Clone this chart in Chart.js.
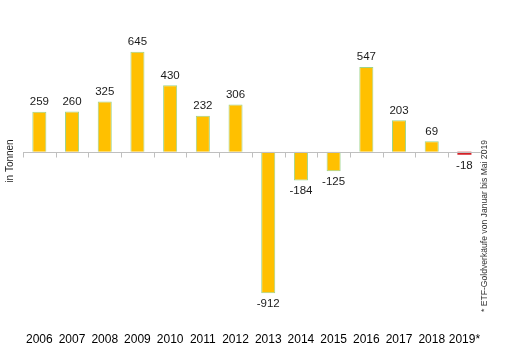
<!DOCTYPE html>
<html><head><meta charset="utf-8">
<script src="https://cdn.jsdelivr.net/npm/chart.js@4"></script>
<style>html,body{margin:0;padding:0;background:#fff}#wrap{width:506px;height:357px}</style>
</head><body><div id="wrap"><canvas id="c"></canvas></div>
<script>
const categories = ['2006','2007','2008','2009','2010','2011','2012','2013','2014','2015','2016','2017','2018','2019*'];
const values = [259,260,325,645,430,232,306,-912,-184,-125,547,203,69,-18];
const barColors = ['#FFC000','#FFC000','#FFC000','#FFC000','#FFC000','#FFC000','#FFC000','#FFC000','#FFC000','#FFC000','#FFC000','#FFC000','#FFC000','#D41F26'];
const yTitle = 'in Tonnen';
const footnote = '* ETF-Goldverkäufe von Januar bis Mai 2019';

const decor = {
  id: 'decor',
  afterDatasetsDraw(chart) {
    const ctx = chart.ctx, x = chart.scales.x, y = chart.scales.y;
    const y0 = Math.round(y.getPixelForValue(0)) + 0.5;
    ctx.save();
    ctx.strokeStyle = '#BFBFBF'; ctx.lineWidth = 1;
    ctx.beginPath();
    ctx.moveTo(chart.chartArea.left, y0); ctx.lineTo(chart.chartArea.right, y0);
    const n = categories.length;
    const step = x.getPixelForValue(1) - x.getPixelForValue(0);
    for (let i = 0; i <= n; i++) {
      const px = Math.round(x.getPixelForValue(0) - step / 2 + i * step) + 0.5;
      ctx.moveTo(px, y0); ctx.lineTo(px, y0 + 5);
    }
    ctx.stroke();
    // data labels
    ctx.fillStyle = '#1a1a1a';
    ctx.font = '11.5px "Liberation Sans", Arial, sans-serif';
    ctx.textAlign = 'center';
    const meta = chart.getDatasetMeta(0);
    meta.data.forEach((bar, i) => {
      const v = values[i];
      if (v >= 0) { ctx.textBaseline = 'bottom'; ctx.fillText(String(v), bar.x, bar.y - 4); }
      else { ctx.textBaseline = 'top'; ctx.fillText(String(v), bar.x, bar.y + 5); }
    });
    // titles
    ctx.fillStyle = '#222';
    ctx.textBaseline = 'middle';
    ctx.font = '10px "Liberation Sans", Arial, sans-serif';
    ctx.save(); ctx.translate(10, 161); ctx.rotate(-Math.PI / 2); ctx.fillText(yTitle, 0, 0); ctx.restore();
    ctx.font = '8.6px "Liberation Sans", Arial, sans-serif';
    ctx.fillStyle = '#333';
    ctx.save(); ctx.translate(485, 226); ctx.rotate(-Math.PI / 2); ctx.fillText(footnote, 0, 0); ctx.restore();
    ctx.restore();
  }
};

new Chart(document.getElementById('c'), {
  type: 'bar',
  data: { labels: categories, datasets: [{ data: values, backgroundColor: barColors, borderColor: '#9CD48C',
    borderWidth: (c) => (Math.abs(values[c.dataIndex]) < 40 ? 0 : 1),
    barPercentage: 0.43, categoryPercentage: 1 }] },
  options: {
    responsive: true, maintainAspectRatio: false, animation: false,
    layout: { padding: { left: 23, right: 25, top: 20, bottom: 10 } },
    plugins: { legend: { display: false }, tooltip: { enabled: false } },
    scales: {
      x: { grid: { display: false, drawTicks: false }, border: { display: false },
           afterFit(scale) { scale.height = 40; },
           ticks: { color: '#000', font: { size: 12, family: '"Liberation Sans", Arial, sans-serif' }, padding: 25, maxRotation: 0, autoSkip: false } },
      y: { display: false, min: -1000, max: 850 }
    }
  },
  plugins: [decor]
});
</script></body></html>
